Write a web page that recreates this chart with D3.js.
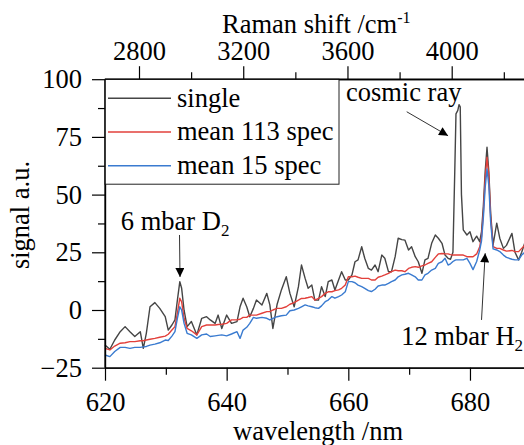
<!DOCTYPE html>
<html>
<head>
<meta charset="utf-8">
<script src="https://cdn.jsdelivr.net/npm/d3@7"></script>
<style>
  body { margin: 0; background: #fff; }
  text { font-family: "Liberation Serif", "Times New Roman", serif; }
</style>
</head>
<body>
<div id="chart"></div>
<script>
// wavelength grid (nm), shared by all three spectra
const wavelength = [620, 620.8, 621.6, 622.5, 623.3, 624.1, 624.9, 625.8, 626.3, 626.8, 627.4, 628.2, 629.0, 629.9, 630.4, 631.0, 631.5, 631.9, 632.3, 632.6, 633.0, 633.5, 634.2, 635.1, 635.9, 636.7, 637.3, 638.1, 638.6, 639.2, 640.0, 640.8, 641.7, 642.2, 642.7, 643.3, 643.8, 644.4, 644.9, 645.8, 646.6, 647.1, 647.6, 648.3, 649.0, 649.8, 650.4, 651.1, 651.8, 652.3, 652.9, 653.4, 654.0, 654.5, 655.1, 655.6, 656.2, 656.7, 657.3, 657.8, 658.4, 658.9, 659.5, 660.0, 660.6, 661.1, 661.6, 662.2, 662.7, 663.3, 663.8, 664.4, 664.9, 665.5, 666.0, 666.6, 667.1, 667.7, 668.2, 668.8, 669.3, 669.9, 670.4, 671.0, 671.5, 672.1, 672.6, 673.1, 673.7, 674.3, 674.8, 675.4, 675.9, 676.4, 676.8, 677.2, 677.5, 677.7, 678.0, 678.2, 678.4, 678.6, 678.9, 679.5, 680.0, 680.5, 681.1, 681.6, 681.9, 682.2, 682.5, 682.8, 683.1, 683.4, 683.8, 684.4, 684.9, 685.5, 686.0, 686.9, 687.4, 688.0, 688.5, 689.0]

const single = [-15.2, -17.0, -13.0, -9.4, -7.2, -9.4, -11.5, -9.4, -16.6, -10.0, 1.4, 3.2, 0.7, -2.9, -8.7, -6.5, -4.3, 4.3, 12.3, 9.4, -0.1, -7.2, -5.0, -10.8, -3.6, -2.9, -4.3, -5.8, -2.2, -8.0, -2.2, -5.8, -5.0, 1.4, 5.1, 1.4, -2.9, 0.7, 4.3, 2.2, 7.2, 2.2, -8.0, 2.5, 8.7, 14.4, 7.2, 1.4, 10.1, 19.5, 13.7, 9.4, 10.8, 4.3, 4.3, 10.1, 5.8, 12.3, 13.0, 8.7, 13.0, 16.6, 13.0, 13.0, 15.2, 20.9, 21.7, 27.4, 22.4, 18.0, 17.3, 19.5, 16.6, 23.8, 22.4, 16.6, 16.6, 23.1, 31.1, 30.5, 30.3, 26.0, 27.4, 23.1, 20.9, 15.9, 21.7, 22.4, 28.9, 32.5, 31.1, 28.9, 23.8, 22.4, 22.0, 25.0, 60.0, 85.0, 86.5, 89.0, 88.0, 50.0, 34.7, 32.5, 33.9, 29.6, 32.0, 29.6, 34.0, 45.0, 60.0, 70.5, 60.0, 42.0, 28.2, 37.6, 31.1, 26.7, 28.0, 33.2, 25.0, 21.7, 25.0, 29.0]

const mean113 = [-16.6, -17.3, -15.6, -14.4, -14.2, -13.7, -13.7, -13.3, -13.3, -13.0, -12.7, -12.3, -11.8, -11.3, -10.5, -8.7, -7.2, -1.4, 5.1, 3.5, -3.6, -8.0, -9.0, -10.8, -7.2, -6.5, -6.5, -6.5, -6.3, -6.2, -5.8, -4.3, -4.3, -4.0, -3.2, -3.2, -2.2, -2.2, -2.2, -1.4, -0.7, -0.7, 0.0, 0.7, 0.7, 1.4, 2.5, 3.2, 4.3, 5.0, 5.1, 5.4, 5.8, 4.3, 5.0, 5.8, 7.2, 7.9, 7.9, 8.4, 8.7, 9.4, 10.8, 14.4, 14.4, 14.7, 14.2, 13.7, 13.7, 13.7, 13.0, 13.0, 14.2, 14.7, 15.2, 15.9, 16.6, 17.3, 17.0, 17.0, 16.6, 18.0, 18.5, 18.8, 18.5, 19.1, 19.5, 20.2, 20.9, 22.8, 24.3, 24.5, 24.3, 24.3, 24.0, 23.8, 23.8, 23.8, 23.8, 23.8, 23.8, 23.8, 23.8, 23.1, 23.1, 23.1, 24.3, 27.4, 31.8, 42.0, 57.0, 66.2, 58.0, 40.0, 27.5, 26.7, 26.7, 26.0, 25.5, 25.8, 25.3, 25.3, 26.7, 28.0]

const mean15 = [-19.5, -20.2, -18.0, -16.2, -16.2, -16.6, -16.2, -16.2, -16.0, -15.8, -15.2, -14.8, -14.2, -13.0, -13.2, -11.3, -9.4, -3.6, 1.4, 0.0, -5.8, -10.1, -10.8, -12.3, -10.8, -10.4, -11.5, -11.2, -11.0, -10.8, -11.2, -10.4, -9.4, -12.3, -8.7, -7.5, -5.8, -3.2, -3.6, -3.2, -3.6, -4.3, -3.6, -2.9, -2.5, -2.2, -0.3, 0.0, 0.7, 1.4, 2.2, 1.8, 1.4, 1.0, 0.7, 1.8, 3.6, 4.3, 5.8, 5.1, 5.8, 6.5, 7.9, 12.3, 12.3, 11.8, 10.8, 10.1, 9.4, 8.4, 8.0, 9.0, 10.4, 10.8, 10.8, 11.5, 12.3, 13.0, 14.4, 15.2, 15.5, 15.9, 15.2, 14.4, 13.0, 13.0, 15.2, 15.9, 17.3, 18.0, 20.2, 20.9, 22.4, 19.5, 20.0, 21.0, 21.5, 21.7, 21.7, 21.7, 21.7, 21.7, 21.7, 22.4, 20.2, 17.5, 21.0, 26.0, 30.0, 40.0, 53.0, 61.1, 54.0, 38.0, 26.5, 26.0, 25.3, 23.8, 22.8, 22.0, 21.7, 21.7, 23.8, 25.0]

const seriesNames = ["single", "mean 113 spec", "mean 15 spec"]
const seriesColors = ["#454545", "#e2403b", "#3a7bd0"]

const xTicks = [620, 640, 660, 680]
const xMinor = [630, 650, 670, 690]
const yTicks = [-25, 0, 25, 50, 75, 100]
const yMinor = [-12.5, 12.5, 37.5, 62.5, 87.5]
const topTicks = [2800, 3200, 3600, 4000]
const topMinor = [3000, 3400, 3800, 4200]

// annotation anchors in data units: text position, arrow start, arrow tip
const notes = [
  {label: "cosmic ray", sub: "", tx: 659.6, ty: 90.7, ax: 669.6, ay: 85.9, bx: 676.4, by: 75.5},
  {label: "6 mbar D", sub: "2", tx: 622.6, ty: 34.7, ax: 632.25, ay: 32.5, bx: 632.33, by: 14.3},
  {label: "12 mbar H", sub: "2", tx: 668.7, ty: -15.2, ax: 681.9, ay: -4.3, bx: 682.5, by: 24.6}
]

const width = 524, height = 445
const fs = 26.5

const svg = d3.select("#chart").append("svg")
    .attr("width", width)
    .attr("height", height)

const x = d3.scaleLinear().domain([620, 690]).range([105, 530.8])
const y = d3.scaleLinear().domain([-25, 100]).range([367.7, 79.2])
const xTop = d3.scaleLinear().domain([2800, 4000]).range([139, 451.7])

const series = [single, mean113, mean15]

const line = d3.line()
    .x((d, i) => x(wavelength[i]))
    .y(d => y(d))

series.forEach((s, k) => {
  svg.append("path")
      .datum(s)
      .attr("d", line)
      .attr("fill", "none")
      .attr("stroke", seriesColors[k])
      .attr("stroke-width", 1.4)
      .attr("stroke-linejoin", "round")
})

function styleAxis(g) {
  g.selectAll("path, line").attr("stroke", "#000").attr("stroke-width", 1.2)
  g.selectAll("text").attr("font-size", fs).attr("fill", "#000")
}

// bottom axis
svg.append("g")
    .attr("transform", `translate(0,${y(-25)})`)
    .call(d3.axisBottom(x).tickValues(xTicks).tickSize(13).tickSizeOuter(0).tickPadding(11))
    .call(styleAxis)
svg.append("g")
    .attr("transform", `translate(0,${y(-25)})`)
    .call(d3.axisBottom(x).tickValues(xMinor).tickSize(7).tickSizeOuter(0).tickFormat(""))
    .call(styleAxis)

// left axis
svg.append("g")
    .attr("transform", `translate(${x(620)},0)`)
    .call(d3.axisLeft(y).tickValues(yTicks).tickSize(13).tickSizeOuter(0).tickPadding(10))
    .call(styleAxis)
svg.append("g")
    .attr("transform", `translate(${x(620)},0)`)
    .call(d3.axisLeft(y).tickValues(yMinor).tickSize(7).tickSizeOuter(0).tickFormat(""))
    .call(styleAxis)

// top axis (Raman shift)
xTop.domain([xTop.invert(105), xTop.invert(530.8)]).range([105, 530.8])
svg.append("g")
    .attr("transform", `translate(0,${y(100)})`)
    .call(d3.axisTop(xTop).tickValues(topTicks).tickFormat(d3.format("d"))
        .tickSize(13).tickSizeOuter(0).tickPadding(6))
    .call(styleAxis)
svg.append("g")
    .attr("transform", `translate(0,${y(100)})`)
    .call(d3.axisTop(xTop).tickValues(topMinor).tickSize(7).tickSizeOuter(0).tickFormat(""))
    .call(styleAxis)

// axis titles
svg.append("text")
    .attr("x", 318).attr("y", 440)
    .attr("text-anchor", "middle")
    .attr("font-size", fs)
    .text("wavelength /nm")

svg.append("text")
    .attr("transform", "translate(29,215) rotate(-90)")
    .attr("text-anchor", "middle")
    .attr("font-size", fs)
    .text("signal a.u.")

let topTitle = svg.append("text")
    .attr("x", 222).attr("y", 33)
    .attr("font-size", fs)
topTitle.append("tspan").text("Raman shift /cm")
topTitle.append("tspan").attr("font-size", 16).attr("dy", -10).text("-1")

// legend
const legend = svg.append("g")
legend.append("rect")
    .attr("x", 105).attr("y", 79.2)
    .attr("width", 234).attr("height", 105)
    .attr("fill", "#fff")
    .attr("stroke", "#222")
    .attr("stroke-width", 1)
seriesNames.forEach((n, k) => {
  const ly = 98.3 + k * 33.7
  legend.append("line")
      .attr("x1", 108).attr("x2", 171)
      .attr("y1", ly).attr("y2", ly)
      .attr("stroke", seriesColors[k])
      .attr("stroke-width", 1.4)
  legend.append("text")
      .attr("x", 177).attr("y", ly + 8.3)
      .attr("font-size", fs)
      .text(n)
})
// redraw top & left axis lines over legend box
svg.append("line").attr("x1", 105).attr("x2", 530.8).attr("y1", y(100)).attr("y2", y(100))
    .attr("stroke", "#000").attr("stroke-width", 1.2)
svg.append("line").attr("x1", 105).attr("x2", 105).attr("y1", y(100)).attr("y2", y(-25))
    .attr("stroke", "#000").attr("stroke-width", 1.2)

// annotations
svg.append("defs").append("marker")
    .attr("id", "arrow")
    .attr("viewBox", "0 0 10 10")
    .attr("refX", 10).attr("refY", 5)
    .attr("markerWidth", 11).attr("markerHeight", 9)
    .attr("markerUnits", "userSpaceOnUse")
    .attr("orient", "auto")
  .append("path")
    .attr("d", "M0,0L10,5L0,10Z")
    .attr("fill", "#000")

notes.forEach(n => {
  const t = svg.append("text")
      .attr("x", x(n.tx)).attr("y", y(n.ty))
      .attr("font-size", fs)
  t.append("tspan").text(n.label)
  if (n.sub) t.append("tspan").attr("font-size", 17).attr("dy", 6).text(n.sub)
  svg.append("line")
      .attr("x1", x(n.ax)).attr("y1", y(n.ay))
      .attr("x2", x(n.bx)).attr("y2", y(n.by))
      .attr("stroke", "#333")
      .attr("stroke-width", 1)
      .attr("marker-end", "url(#arrow)")
})
</script>
</body>
</html>
